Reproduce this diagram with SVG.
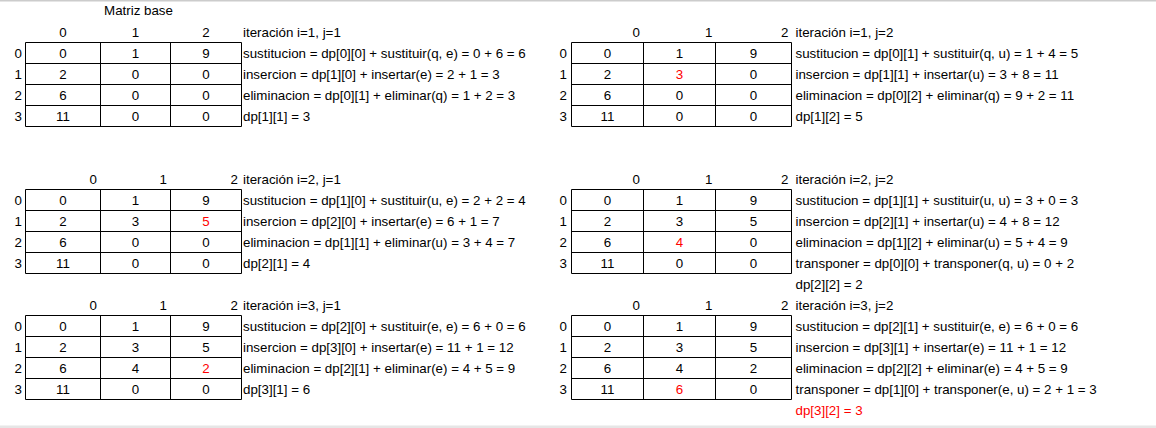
<svg xmlns="http://www.w3.org/2000/svg" width="1156" height="428" viewBox="0 0 1156 428">
<style>
.t{font-family:"Liberation Sans",Arial,sans-serif;font-size:13.33px;fill:#000}
.c{text-anchor:middle}
.e{text-anchor:end}
.r{fill:#f00}
.g{stroke:#000;stroke-width:1;fill:none}
</style>
<rect x="0" y="0" width="1156" height="428" fill="#fff"/>
<rect x="0" y="0" width="1156" height="1.5" fill="#cccccc"/>
<rect x="0" y="425.5" width="1156" height="2.5" fill="#e6e6e6"/>

<text class="t c" x="138.5" y="15">Matriz base</text>

<!-- Table 1 -->
<g id="t1" transform="translate(0,42.5)">
<path class="g" d="M25.5 0H241.5V84H25.5Z M100.5 0V84 M170.5 0V84 M25.5 21H241.5 M25.5 42H241.5 M25.5 63H241.5"/>
<text class="t c" x="63" y="-5.5">0</text><text class="t c" x="135.5" y="-5.5">1</text><text class="t c" x="206" y="-5.5">2</text>
<text class="t e" x="22" y="15.8">0</text><text class="t e" x="22" y="36.8">1</text><text class="t e" x="22" y="57.8">2</text><text class="t e" x="22" y="78.8">3</text>
<text class="t c" x="63" y="15.8">0</text><text class="t c" x="135.5" y="15.8">1</text><text class="t c" x="206" y="15.8">9</text>
<text class="t c" x="63" y="36.8">2</text><text class="t c" x="135.5" y="36.8">0</text><text class="t c" x="206" y="36.8">0</text>
<text class="t c" x="63" y="57.8">6</text><text class="t c" x="135.5" y="57.8">0</text><text class="t c" x="206" y="57.8">0</text>
<text class="t c" x="63" y="78.8">11</text><text class="t c" x="135.5" y="78.8">0</text><text class="t c" x="206" y="78.8">0</text>
<text class="t" x="243" y="-5.5">iteración i=1, j=1</text>
<text class="t" x="243" y="15.8">sustitucion = dp[0][0] + sustituir(q, e) = 0 + 6 = 6</text>
<text class="t" x="243" y="36.8">insercion = dp[1][0] + insertar(e) = 2 + 1 = 3</text>
<text class="t" x="243" y="57.8">eliminacion = dp[0][1] + eliminar(q) = 1 + 2 = 3</text>
<text class="t" x="243" y="78.8">dp[1][1] = 3</text>
</g>

<!-- Table 2 -->
<g id="t2" transform="translate(0,42.5)">
<path class="g" d="M571.5 0H791.5V84H571.5Z M643.5 0V84 M715.5 0V84 M571.5 21H791.5 M571.5 42H791.5 M571.5 63H791.5"/>
<text class="t e" x="640" y="-5.5">0</text><text class="t e" x="712.5" y="-5.5">1</text><text class="t e" x="788.5" y="-5.5">2</text>
<text class="t e" x="567" y="15.8">0</text><text class="t e" x="567" y="36.8">1</text><text class="t e" x="567" y="57.8">2</text><text class="t e" x="567" y="78.8">3</text>
<text class="t c" x="607.5" y="15.8">0</text><text class="t c" x="679.5" y="15.8">1</text><text class="t c" x="753.5" y="15.8">9</text>
<text class="t c" x="607.5" y="36.8">2</text><text class="t c r" x="679.5" y="36.8">3</text><text class="t c" x="753.5" y="36.8">0</text>
<text class="t c" x="607.5" y="57.8">6</text><text class="t c" x="679.5" y="57.8">0</text><text class="t c" x="753.5" y="57.8">0</text>
<text class="t c" x="607.5" y="78.8">11</text><text class="t c" x="679.5" y="78.8">0</text><text class="t c" x="753.5" y="78.8">0</text>
<text class="t" x="795.5" y="-5.5">iteración i=1, j=2</text>
<text class="t" x="795.5" y="15.8">sustitucion = dp[0][1] + sustituir(q, u) = 1 + 4 = 5</text>
<text class="t" x="795.5" y="36.8">insercion = dp[1][1] + insertar(u) = 3 + 8 = 11</text>
<text class="t" x="795.5" y="57.8">eliminacion = dp[0][2] + eliminar(q) = 9 + 2 = 11</text>
<text class="t" x="795.5" y="78.8">dp[1][2] = 5</text>
</g>

<!-- Table 3 -->
<g id="t3" transform="translate(0,189.5)">
<path class="g" d="M25.5 0H241.5V84H25.5Z M100.5 0V84 M170.5 0V84 M25.5 21H241.5 M25.5 42H241.5 M25.5 63H241.5"/>
<text class="t e" x="97" y="-5.7">0</text><text class="t e" x="167" y="-5.7">1</text><text class="t e" x="238" y="-5.7">2</text>
<text class="t e" x="22" y="15.8">0</text><text class="t e" x="22" y="36.8">1</text><text class="t e" x="22" y="57.8">2</text><text class="t e" x="22" y="78.8">3</text>
<text class="t c" x="63" y="15.8">0</text><text class="t c" x="135.5" y="15.8">1</text><text class="t c" x="206" y="15.8">9</text>
<text class="t c" x="63" y="36.8">2</text><text class="t c" x="135.5" y="36.8">3</text><text class="t c r" x="206" y="36.8">5</text>
<text class="t c" x="63" y="57.8">6</text><text class="t c" x="135.5" y="57.8">0</text><text class="t c" x="206" y="57.8">0</text>
<text class="t c" x="63" y="78.8">11</text><text class="t c" x="135.5" y="78.8">0</text><text class="t c" x="206" y="78.8">0</text>
<text class="t" x="243" y="-5.7">iteración i=2, j=1</text>
<text class="t" x="243" y="15.8">sustitucion = dp[1][0] + sustituir(u, e) = 2 + 2 = 4</text>
<text class="t" x="243" y="36.8">insercion = dp[2][0] + insertar(e) = 6 + 1 = 7</text>
<text class="t" x="243" y="57.8">eliminacion = dp[1][1] + eliminar(u) = 3 + 4 = 7</text>
<text class="t" x="243" y="78.8">dp[2][1] = 4</text>
</g>

<!-- Table 4 -->
<g id="t4" transform="translate(0,189.5)">
<path class="g" d="M571.5 0H791.5V84H571.5Z M643.5 0V84 M715.5 0V84 M571.5 21H791.5 M571.5 42H791.5 M571.5 63H791.5"/>
<text class="t e" x="640" y="-5.7">0</text><text class="t e" x="712.5" y="-5.7">1</text><text class="t e" x="788.5" y="-5.7">2</text>
<text class="t e" x="567" y="15.8">0</text><text class="t e" x="567" y="36.8">1</text><text class="t e" x="567" y="57.8">2</text><text class="t e" x="567" y="78.8">3</text>
<text class="t c" x="607.5" y="15.8">0</text><text class="t c" x="679.5" y="15.8">1</text><text class="t c" x="753.5" y="15.8">9</text>
<text class="t c" x="607.5" y="36.8">2</text><text class="t c" x="679.5" y="36.8">3</text><text class="t c" x="753.5" y="36.8">5</text>
<text class="t c" x="607.5" y="57.8">6</text><text class="t c r" x="679.5" y="57.8">4</text><text class="t c" x="753.5" y="57.8">0</text>
<text class="t c" x="607.5" y="78.8">11</text><text class="t c" x="679.5" y="78.8">0</text><text class="t c" x="753.5" y="78.8">0</text>
<text class="t" x="795.5" y="-5.7">iteración i=2, j=2</text>
<text class="t" x="795.5" y="15.8">sustitucion = dp[1][1] + sustituir(u, u) = 3 + 0 = 3</text>
<text class="t" x="795.5" y="36.8">insercion = dp[2][1] + insertar(u) = 4 + 8 = 12</text>
<text class="t" x="795.5" y="57.8">eliminacion = dp[1][2] + eliminar(u) = 5 + 4 = 9</text>
<text class="t" x="795.5" y="78.8">transponer = dp[0][0] + transponer(q, u) = 0 + 2</text>
<text class="t" x="795.5" y="99.8">dp[2][2] = 2</text>
</g>

<!-- Table 5 -->
<g id="t5" transform="translate(0,315.5)">
<path class="g" d="M25.5 0H241.5V84H25.5Z M100.5 0V84 M170.5 0V84 M25.5 21H241.5 M25.5 42H241.5 M25.5 63H241.5"/>
<text class="t e" x="97" y="-5.7">0</text><text class="t e" x="167" y="-5.7">1</text><text class="t e" x="238" y="-5.7">2</text>
<text class="t e" x="22" y="15.8">0</text><text class="t e" x="22" y="36.8">1</text><text class="t e" x="22" y="57.8">2</text><text class="t e" x="22" y="78.8">3</text>
<text class="t c" x="63" y="15.8">0</text><text class="t c" x="135.5" y="15.8">1</text><text class="t c" x="206" y="15.8">9</text>
<text class="t c" x="63" y="36.8">2</text><text class="t c" x="135.5" y="36.8">3</text><text class="t c" x="206" y="36.8">5</text>
<text class="t c" x="63" y="57.8">6</text><text class="t c" x="135.5" y="57.8">4</text><text class="t c r" x="206" y="57.8">2</text>
<text class="t c" x="63" y="78.8">11</text><text class="t c" x="135.5" y="78.8">0</text><text class="t c" x="206" y="78.8">0</text>
<text class="t" x="243" y="-5.7">iteración i=3, j=1</text>
<text class="t" x="243" y="15.8">sustitucion = dp[2][0] + sustituir(e, e) = 6 + 0 = 6</text>
<text class="t" x="243" y="36.8">insercion = dp[3][0] + insertar(e) = 11 + 1 = 12</text>
<text class="t" x="243" y="57.8">eliminacion = dp[2][1] + eliminar(e) = 4 + 5 = 9</text>
<text class="t" x="243" y="78.8">dp[3][1] = 6</text>
</g>

<!-- Table 6 -->
<g id="t6" transform="translate(0,315.5)">
<path class="g" d="M571.5 0H791.5V84H571.5Z M643.5 0V84 M715.5 0V84 M571.5 21H791.5 M571.5 42H791.5 M571.5 63H791.5"/>
<text class="t e" x="640" y="-5.7">0</text><text class="t e" x="712.5" y="-5.7">1</text><text class="t e" x="788.5" y="-5.7">2</text>
<text class="t e" x="567" y="15.8">0</text><text class="t e" x="567" y="36.8">1</text><text class="t e" x="567" y="57.8">2</text><text class="t e" x="567" y="78.8">3</text>
<text class="t c" x="607.5" y="15.8">0</text><text class="t c" x="679.5" y="15.8">1</text><text class="t c" x="753.5" y="15.8">9</text>
<text class="t c" x="607.5" y="36.8">2</text><text class="t c" x="679.5" y="36.8">3</text><text class="t c" x="753.5" y="36.8">5</text>
<text class="t c" x="607.5" y="57.8">6</text><text class="t c" x="679.5" y="57.8">4</text><text class="t c" x="753.5" y="57.8">2</text>
<text class="t c" x="607.5" y="78.8">11</text><text class="t c r" x="679.5" y="78.8">6</text><text class="t c" x="753.5" y="78.8">0</text>
<text class="t" x="795.5" y="-5.7">iteración i=3, j=2</text>
<text class="t" x="795.5" y="15.8">sustitucion = dp[2][1] + sustituir(e, e) = 6 + 0 = 6</text>
<text class="t" x="795.5" y="36.8">insercion = dp[3][1] + insertar(e) = 11 + 1 = 12</text>
<text class="t" x="795.5" y="57.8">eliminacion = dp[2][2] + eliminar(e) = 4 + 5 = 9</text>
<text class="t" x="795.5" y="78.8">transponer = dp[1][0] + transponer(e, u) = 2 + 1 = 3</text>
<text class="t r" x="795.5" y="99.8">dp[3][2] = 3</text>
</g>

<g id="connectors"></g>
</svg>
